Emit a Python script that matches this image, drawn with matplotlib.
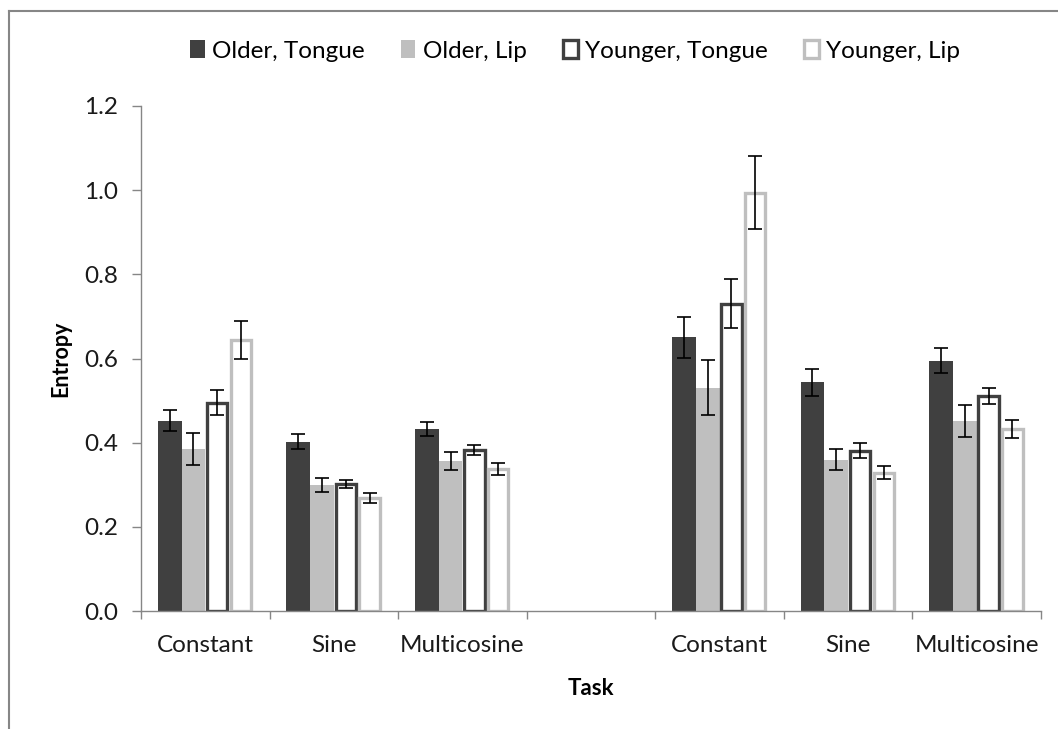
import matplotlib
matplotlib.use("Agg")
import matplotlib.pyplot as plt
from matplotlib.patches import Patch
from matplotlib.lines import Line2D
import numpy as np

plt.rcParams['font.family'] = ['Lato', 'DejaVu Sans']

categories = ["Constant", "Sine", "Multicosine", "", "Constant", "Sine", "Multicosine"]
series_names = ["Older, Tongue", "Older, Lip", "Younger, Tongue", "Younger, Lip"]

older_tongue = [0.452, 0.402, 0.433, None, 0.650, 0.543, 0.595]
older_lip = [0.385, 0.299, 0.357, None, 0.531, 0.360, 0.451]
younger_tongue = [0.495, 0.302, 0.382, None, 0.730, 0.381, 0.511]
younger_lip = [0.645, 0.269, 0.337, None, 0.994, 0.329, 0.432]

older_tongue_err = [0.025, 0.018, 0.017, None, 0.049, 0.033, 0.030]
older_lip_err = [0.037, 0.017, 0.022, None, 0.065, 0.025, 0.038]
younger_tongue_err = [0.030, 0.010, 0.012, None, 0.058, 0.018, 0.020]
younger_lip_err = [0.045, 0.012, 0.014, None, 0.087, 0.016, 0.021]

values = [older_tongue, older_lip, younger_tongue, younger_lip]
errors = [older_tongue_err, older_lip_err, younger_tongue_err, younger_lip_err]

dark = "#404040"
light = "#bfbfbf"
styles = [
    dict(facecolor=dark, edgecolor=dark, linewidth=0),
    dict(facecolor=light, edgecolor=light, linewidth=0),
    dict(facecolor="white", edgecolor=dark, linewidth=2.4),
    dict(facecolor="white", edgecolor=light, linewidth=2.4),
]

fig = plt.figure(figsize=(10.58, 7.29), dpi=100)
ax = fig.add_axes([141/1058, 1-611/729, (1041-141)/1058, (611-106)/729])

n = len(series_names)
bar_w = 0.185
offsets = (np.arange(n) - (n - 1) / 2) * bar_w
x = np.arange(len(categories))

for i in range(n):
    idx = [j for j, v in enumerate(values[i]) if v is not None]
    xs = x[idx] + offsets[i]
    hs = [values[i][j] for j in idx]
    es = [errors[i][j] for j in idx]
    st = styles[i]
    lw = st["linewidth"]
    ax.bar(xs, hs, width=bar_w * (0.86 if lw > 0 else 1.0), facecolor=st["facecolor"],
           edgecolor=st["edgecolor"], linewidth=lw, zorder=2)
    ax.errorbar(xs, hs, yerr=es, fmt="none", ecolor="black", elinewidth=1.2,
                capsize=5, capthick=1.2, zorder=3)

ax.set_xlim(-0.5, len(categories) - 0.5)
ax.set_ylim(0, 1.2)
yt = np.arange(0, 1.21, 0.2)
ax.set_yticks(yt)
ax.set_yticklabels([f"{v:.1f}" for v in yt])

ax.set_xticks(np.arange(-0.5, len(categories), 1.0))
ax.set_xticklabels([])
ax.set_xticks(x, minor=True)
ax.set_xticklabels(categories, minor=True)
ax.tick_params(axis="x", which="minor", length=0, pad=17, labelsize=17.5, colors="#1a1a1a")
ax.tick_params(axis="x", which="major", length=5.5, color="#868686", width=1)
ax.tick_params(axis="y", length=6.5, color="#868686", width=1, labelsize=17.5,
               labelcolor="#1a1a1a", pad=10)

for s in ["top", "right"]:
    ax.spines[s].set_visible(False)
for s in ["left", "bottom"]:
    ax.spines[s].set_color("#868686")
    ax.spines[s].set_linewidth(1)

ax.set_ylabel("Entropy", fontsize=15.5, fontweight="bold", labelpad=9)
ax.set_xlabel("Task", fontsize=16, fontweight="bold", labelpad=16)

handles = [
    Patch(facecolor=dark, edgecolor=dark, linewidth=0),
    Patch(facecolor=light, edgecolor=light, linewidth=0),
    Patch(facecolor="white", edgecolor=dark, linewidth=2.4),
    Patch(facecolor="white", edgecolor=light, linewidth=2.4),
]
fig.legend(handles, series_names, loc="center", bbox_to_anchor=(575/1058, 1-51/729), ncol=4,
           frameon=False, fontsize=17.5, handlelength=0.6, handleheight=0.7,
           handletextpad=0.3, columnspacing=1.5)

fig.add_artist(Line2D([9/1058, 9/1058], [0, 1-11/729], transform=fig.transFigure,
                      color="#868686", linewidth=1.5))
fig.add_artist(Line2D([9/1058, 1], [1-11/729, 1-11/729], transform=fig.transFigure,
                      color="#868686", linewidth=1.5))

fig.savefig("out.png", dpi=100)
